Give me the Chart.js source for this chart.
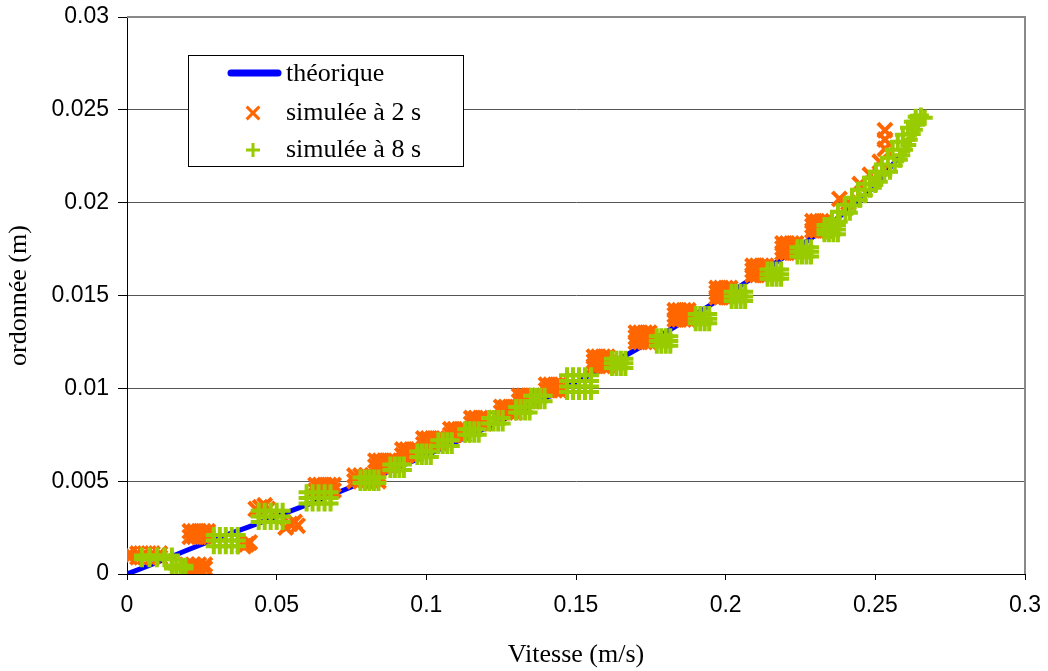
<!DOCTYPE html>
<html>
<head>
<meta charset="utf-8">
<script src="https://cdn.jsdelivr.net/npm/chart.js@4/dist/chart.umd.min.js"></script>
<style>
  html, body { margin: 0; padding: 0; background: #fff; }
  #wrap { width: 1048px; height: 671px; position: relative; }
</style>
</head>
<body>
<div id="wrap"><canvas id="graph"></canvas></div>
<script>
// courbe théorique (vitesse en m/s, ordonnée en m)
const theoV = [0, 0.01, 0.02, 0.03, 0.04, 0.05, 0.06, 0.07, 0.08, 0.09, 0.10, 0.11, 0.12, 0.13,
    0.14, 0.15, 0.16, 0.17, 0.18, 0.19, 0.20, 0.21, 0.22, 0.23, 0.24, 0.25, 0.26, 0.265];
const theoY = [0, 0.00062, 0.00128, 0.00192, 0.00250, 0.00310, 0.00372, 0.00436, 0.00502, 0.00570,
    0.00640, 0.00712, 0.00788, 0.00866, 0.00948, 0.01032, 0.01118, 0.01208, 0.01302, 0.01400,
    0.01500, 0.01605, 0.01712, 0.01825, 0.01950, 0.02090, 0.02290, 0.02440];

// points simulés à 2 s  [vitesse, ordonnée]
const simule2s = [
    [0.001, 0.0009], [0.0035, 0.0009], [0.006, 0.0009], [0.0085, 0.0009], [0.011, 0.0009],
    [0.001, 0.0011], [0.0035, 0.0011], [0.006, 0.0011], [0.0085, 0.0011], [0.011, 0.0011],
    [0.020, 0.0003], [0.022, 0.0003], [0.024, 0.0003], [0.026, 0.0003],
    [0.020, 0.0005], [0.022, 0.0005], [0.024, 0.0005], [0.026, 0.0005],
    [0.021, 0.0020], [0.0225, 0.0020], [0.024, 0.0020], [0.0255, 0.0020], [0.027, 0.0020],
    [0.021, 0.0023], [0.0225, 0.0023], [0.024, 0.0023], [0.0255, 0.0023], [0.027, 0.0023],
    [0.039, 0.0015], [0.040, 0.0016], [0.041, 0.0017],
    [0.043, 0.0035], [0.0445, 0.0036], [0.046, 0.0037], [0.047, 0.0035],
    [0.053, 0.0025], [0.0545, 0.0027], [0.056, 0.0028], [0.057, 0.0026],
    [0.063, 0.0045], [0.0645, 0.0045], [0.066, 0.0045], [0.0675, 0.0045], [0.069, 0.0045],
    [0.063, 0.0048], [0.0645, 0.0048], [0.066, 0.0048], [0.0675, 0.0048], [0.069, 0.0048],
    [0.076, 0.0050], [0.078, 0.0050], [0.080, 0.0050], [0.082, 0.0050], [0.084, 0.0050],
    [0.076, 0.0053], [0.078, 0.0053], [0.080, 0.0053], [0.082, 0.0053], [0.084, 0.0053],
    [0.083, 0.0058], [0.0845, 0.0058], [0.086, 0.0058], [0.0875, 0.0058], [0.089, 0.0058],
    [0.083, 0.0061], [0.0845, 0.0061], [0.086, 0.0061], [0.0875, 0.0061], [0.089, 0.0061],
    [0.092, 0.0064], [0.0935, 0.0064], [0.095, 0.0064], [0.0965, 0.0064],
    [0.092, 0.0067], [0.0935, 0.0067], [0.095, 0.0067], [0.0965, 0.0067],
    [0.099, 0.0070], [0.1005, 0.0070], [0.102, 0.0070], [0.1035, 0.0070], [0.105, 0.0070],
    [0.099, 0.0073], [0.1005, 0.0073], [0.102, 0.0073], [0.1035, 0.0073], [0.105, 0.0073],
    [0.108, 0.0075], [0.1095, 0.0075], [0.111, 0.0075], [0.1125, 0.0075],
    [0.108, 0.0078], [0.1095, 0.0078], [0.111, 0.0078], [0.1125, 0.0078],
    [0.115, 0.0081], [0.1165, 0.0081], [0.118, 0.0081], [0.1195, 0.0081],
    [0.115, 0.0084], [0.1165, 0.0084], [0.118, 0.0084], [0.1195, 0.0084],
    [0.125, 0.0087], [0.1265, 0.0087], [0.128, 0.0087], [0.1295, 0.0087],
    [0.125, 0.0090], [0.1265, 0.0090], [0.128, 0.0090], [0.1295, 0.0090],
    [0.131, 0.0093], [0.1325, 0.0093], [0.134, 0.0093], [0.1355, 0.0093],
    [0.131, 0.0096], [0.1325, 0.0096], [0.134, 0.0096], [0.1355, 0.0096],
    [0.140, 0.0099], [0.1415, 0.0099], [0.143, 0.0099], [0.1445, 0.0099],
    [0.140, 0.0102], [0.1415, 0.0102], [0.143, 0.0102], [0.1445, 0.0102],
    [0.156, 0.0112], [0.1575, 0.0112], [0.159, 0.0112], [0.1605, 0.0112],
    [0.156, 0.01145], [0.1575, 0.01145], [0.159, 0.01145], [0.1605, 0.01145],
    [0.156, 0.0117], [0.1575, 0.0117], [0.159, 0.0117], [0.1605, 0.0117],
    [0.170, 0.0125], [0.1715, 0.0125], [0.173, 0.0125], [0.1745, 0.0125],
    [0.170, 0.01275], [0.1715, 0.01275], [0.173, 0.01275], [0.1745, 0.01275],
    [0.170, 0.0130], [0.1715, 0.0130], [0.173, 0.0130], [0.1745, 0.0130],
    [0.183, 0.0137], [0.1845, 0.0137], [0.186, 0.0137], [0.1875, 0.0137],
    [0.183, 0.01395], [0.1845, 0.01395], [0.186, 0.01395], [0.1875, 0.01395],
    [0.183, 0.0142], [0.1845, 0.0142], [0.186, 0.0142], [0.1875, 0.0142],
    [0.197, 0.0149], [0.1985, 0.0149], [0.200, 0.0149], [0.2015, 0.0149],
    [0.197, 0.01515], [0.1985, 0.01515], [0.200, 0.01515], [0.2015, 0.01515],
    [0.197, 0.0154], [0.1985, 0.0154], [0.200, 0.0154], [0.2015, 0.0154],
    [0.209, 0.0161], [0.2105, 0.0161], [0.212, 0.0161], [0.2135, 0.0161],
    [0.209, 0.01635], [0.2105, 0.01635], [0.212, 0.01635], [0.2135, 0.01635],
    [0.209, 0.0166], [0.2105, 0.0166], [0.212, 0.0166], [0.2135, 0.0166],
    [0.219, 0.0173], [0.2205, 0.0173], [0.222, 0.0173], [0.2235, 0.0173],
    [0.219, 0.01755], [0.2205, 0.01755], [0.222, 0.01755], [0.2235, 0.01755],
    [0.219, 0.0178], [0.2205, 0.0178], [0.222, 0.0178], [0.2235, 0.0178],
    [0.229, 0.0185], [0.2305, 0.0185], [0.232, 0.0185], [0.2335, 0.0185],
    [0.229, 0.01875], [0.2305, 0.01875], [0.232, 0.01875], [0.2335, 0.01875],
    [0.229, 0.0190], [0.2305, 0.0190], [0.232, 0.0190], [0.2335, 0.0190],
    [0.238, 0.0202], [0.241, 0.0200], [0.2448, 0.0210], [0.2482, 0.0215], [0.2515, 0.0222],
    [0.2532, 0.0229], [0.2532, 0.0234], [0.2532, 0.0239]
];

// points simulés à 8 s  [vitesse, ordonnée]
const simule8s = [
    [0.005, 0.0008], [0.0075, 0.0008], [0.010, 0.0008], [0.0125, 0.0008], [0.015, 0.0008],
    [0.005, 0.0010], [0.0075, 0.0010], [0.010, 0.0010], [0.0125, 0.0010], [0.015, 0.0010],
    [0.015, 0.0003], [0.0165, 0.0003], [0.018, 0.0003], [0.0195, 0.0003],
    [0.015, 0.00045], [0.0165, 0.00045], [0.018, 0.00045], [0.0195, 0.00045],
    [0.029, 0.0015], [0.031, 0.0015], [0.033, 0.0015], [0.035, 0.0015], [0.037, 0.0015],
    [0.029, 0.0018], [0.031, 0.0018], [0.033, 0.0018], [0.035, 0.0018], [0.037, 0.0018],
    [0.029, 0.0021], [0.031, 0.0021], [0.033, 0.0021], [0.035, 0.0021], [0.037, 0.0021],
    [0.044, 0.0028], [0.046, 0.0028], [0.048, 0.0028], [0.050, 0.0028], [0.052, 0.0028],
    [0.044, 0.0031], [0.046, 0.0031], [0.048, 0.0031], [0.050, 0.0031], [0.052, 0.0031],
    [0.044, 0.0034], [0.046, 0.0034], [0.048, 0.0034], [0.050, 0.0034], [0.052, 0.0034],
    [0.060, 0.0038], [0.062, 0.0038], [0.064, 0.0038], [0.066, 0.0038], [0.068, 0.0038],
    [0.060, 0.0041], [0.062, 0.0041], [0.064, 0.0041], [0.066, 0.0041], [0.068, 0.0041],
    [0.060, 0.0044], [0.062, 0.0044], [0.064, 0.0044], [0.066, 0.0044], [0.068, 0.0044],
    [0.078, 0.0049], [0.0795, 0.0049], [0.081, 0.0049], [0.0825, 0.0049], [0.084, 0.0049],
    [0.078, 0.0052], [0.0795, 0.0052], [0.081, 0.0052], [0.0825, 0.0052], [0.084, 0.0052],
    [0.088, 0.0056], [0.0895, 0.0056], [0.091, 0.0056], [0.0925, 0.0056],
    [0.088, 0.0059], [0.0895, 0.0059], [0.091, 0.0059], [0.0925, 0.0059],
    [0.097, 0.0063], [0.0985, 0.0063], [0.100, 0.0063], [0.1015, 0.0063],
    [0.097, 0.0066], [0.0985, 0.0066], [0.100, 0.0066], [0.1015, 0.0066],
    [0.104, 0.0069], [0.1055, 0.0069], [0.107, 0.0069], [0.1085, 0.0069],
    [0.104, 0.0072], [0.1055, 0.0072], [0.107, 0.0072], [0.1085, 0.0072],
    [0.113, 0.0075], [0.1145, 0.0075], [0.116, 0.0075], [0.1175, 0.0075],
    [0.113, 0.0078], [0.1145, 0.0078], [0.116, 0.0078], [0.1175, 0.0078],
    [0.121, 0.0081], [0.1225, 0.0081], [0.124, 0.0081], [0.1255, 0.0081],
    [0.121, 0.0084], [0.1225, 0.0084], [0.124, 0.0084], [0.1255, 0.0084],
    [0.130, 0.0087], [0.1315, 0.0087], [0.133, 0.0087], [0.1345, 0.0087],
    [0.130, 0.0090], [0.1315, 0.0090], [0.133, 0.0090], [0.1345, 0.0090],
    [0.135, 0.0093], [0.1365, 0.0093], [0.138, 0.0093], [0.1395, 0.0093],
    [0.135, 0.0096], [0.1365, 0.0096], [0.138, 0.0096], [0.1395, 0.0096],
    [0.147, 0.0098], [0.149, 0.0098], [0.151, 0.0098], [0.153, 0.0098], [0.155, 0.0098],
    [0.147, 0.0101], [0.149, 0.0101], [0.151, 0.0101], [0.153, 0.0101], [0.155, 0.0101],
    [0.147, 0.0104], [0.149, 0.0104], [0.151, 0.0104], [0.153, 0.0104], [0.155, 0.0104],
    [0.147, 0.0107], [0.149, 0.0107], [0.151, 0.0107], [0.153, 0.0107], [0.155, 0.0107],
    [0.162, 0.0111], [0.1635, 0.0111], [0.165, 0.0111], [0.1665, 0.0111],
    [0.162, 0.01135], [0.1635, 0.01135], [0.165, 0.01135], [0.1665, 0.01135],
    [0.162, 0.0116], [0.1635, 0.0116], [0.165, 0.0116], [0.1665, 0.0116],
    [0.177, 0.0123], [0.1785, 0.0123], [0.180, 0.0123], [0.1815, 0.0123],
    [0.177, 0.01255], [0.1785, 0.01255], [0.180, 0.01255], [0.1815, 0.01255],
    [0.177, 0.0128], [0.1785, 0.0128], [0.180, 0.0128], [0.1815, 0.0128],
    [0.190, 0.0135], [0.1915, 0.0135], [0.193, 0.0135], [0.1945, 0.0135],
    [0.190, 0.01375], [0.1915, 0.01375], [0.193, 0.01375], [0.1945, 0.01375],
    [0.190, 0.0140], [0.1915, 0.0140], [0.193, 0.0140], [0.1945, 0.0140],
    [0.202, 0.0147], [0.2035, 0.0147], [0.205, 0.0147], [0.2065, 0.0147],
    [0.202, 0.01495], [0.2035, 0.01495], [0.205, 0.01495], [0.2065, 0.01495],
    [0.202, 0.0152], [0.2035, 0.0152], [0.205, 0.0152], [0.2065, 0.0152],
    [0.214, 0.0159], [0.2155, 0.0159], [0.217, 0.0159], [0.2185, 0.0159],
    [0.214, 0.01615], [0.2155, 0.01615], [0.217, 0.01615], [0.2185, 0.01615],
    [0.214, 0.0164], [0.2155, 0.0164], [0.217, 0.0164], [0.2185, 0.0164],
    [0.224, 0.0171], [0.2255, 0.0171], [0.227, 0.0171], [0.2285, 0.0171],
    [0.224, 0.01735], [0.2255, 0.01735], [0.227, 0.01735], [0.2285, 0.01735],
    [0.224, 0.0176], [0.2255, 0.0176], [0.227, 0.0176], [0.2285, 0.0176],
    [0.233, 0.0183], [0.2345, 0.0183], [0.236, 0.0183], [0.2375, 0.0183],
    [0.233, 0.01855], [0.2345, 0.01855], [0.236, 0.01855], [0.2375, 0.01855],
    [0.233, 0.0188], [0.2345, 0.0188], [0.236, 0.0188], [0.2375, 0.0188],
    [0.2331, 0.01843], [0.2355, 0.01908], [0.2375, 0.01951], [0.2398, 0.01989], [0.2422, 0.02027],
    [0.2442, 0.0207], [0.2465, 0.02102], [0.2482, 0.02134], [0.2502, 0.02167], [0.2522, 0.02205],
    [0.2542, 0.02242], [0.2558, 0.02285], [0.2575, 0.02328], [0.2592, 0.02366], [0.2609, 0.02404],
    [0.2622, 0.02436], [0.2635, 0.02463], [0.2652, 0.02469],
    [0.2381, 0.01897], [0.2415, 0.01946], [0.2448, 0.02016], [0.2482, 0.0207], [0.2515, 0.02113],
    [0.2549, 0.02167], [0.2582, 0.02231], [0.2599, 0.02285], [0.2615, 0.02339], [0.2632, 0.02393],
    [0.2642, 0.02436], [0.2665, 0.02458],
    [0.2400, 0.01940], [0.2430, 0.01985], [0.2465, 0.02040], [0.2500, 0.02095], [0.2530, 0.02150],
    [0.2565, 0.02200], [0.2590, 0.02255], [0.2610, 0.02310], [0.2625, 0.02370], [0.2640, 0.02420]
];

const serif = "'Liberation Serif', 'Times New Roman', serif";
const sans = "'Liberation Sans', Arial, sans-serif";

function fmt(v) {
    return String(Number(v.toFixed(4)));
}

// cadre gris (haut et droite) + légende dessinée dans la zone du graphe
const frameAndLegend = {
    id: 'frameAndLegend',
    afterDraw(chart) {
        const ctx = chart.ctx;
        const a = chart.chartArea;
        ctx.save();
        ctx.strokeStyle = '#888888';
        ctx.lineWidth = 2;
        ctx.beginPath();
        ctx.moveTo(a.left, a.top);
        ctx.lineTo(a.right, a.top);
        ctx.lineTo(a.right, a.bottom);
        ctx.stroke();

        // boîte de légende
        const bx = 188, by = 55, bw = 275, bh = 111;
        ctx.fillStyle = '#ffffff';
        ctx.fillRect(bx, by, bw, bh);
        ctx.strokeStyle = '#000000';
        ctx.lineWidth = 1;
        ctx.strokeRect(bx + 0.5, by + 0.5, bw, bh);

        const ds = chart.data.datasets;
        ctx.font = '26px ' + serif;
        ctx.textBaseline = 'middle';
        ctx.textAlign = 'left';

        // théorique
        ctx.strokeStyle = ds[0].borderColor;
        ctx.lineWidth = 7;
        ctx.lineCap = 'round';
        ctx.beginPath();
        ctx.moveTo(231, 73);
        ctx.lineTo(278, 73);
        ctx.stroke();
        ctx.lineCap = 'butt';
        ctx.fillStyle = '#000';
        ctx.fillText(ds[0].label, 286, 74);

        // simulée à 2 s
        ctx.strokeStyle = ds[1].borderColor;
        ctx.lineWidth = 3;
        Chart.helpers.drawPoint(ctx, { pointStyle: 'crossRot', radius: 9, borderWidth: 3 }, 253, 113);
        ctx.fillStyle = '#000';
        ctx.fillText(ds[1].label, 286, 113);

        // simulée à 8 s
        ctx.strokeStyle = ds[2].borderColor;
        ctx.lineWidth = 3;
        Chart.helpers.drawPoint(ctx, { pointStyle: 'cross', radius: 7, borderWidth: 3 }, 253, 150);
        ctx.fillStyle = '#000';
        ctx.fillText(ds[2].label, 286, 150);
        ctx.restore();
    }
};

const ctx = document.getElementById('graph').getContext('2d');
const graph = new Chart(ctx, {
    type: 'scatter',
    data: {
        datasets: [{
            label: 'théorique',
            data: theoV.map((v, i) => ({ x: v, y: theoY[i] })),
            showLine: true,
            borderColor: '#0000FF',
            borderWidth: 5,
            pointRadius: 0,
            order: 3
        }, {
            label: 'simulée à 2 s',
            data: simule2s.map(p => ({ x: p[0], y: p[1] })),
            pointStyle: 'crossRot',
            pointRadius: 10,
            borderWidth: 4,
            borderColor: '#FF6600',
            backgroundColor: '#FF6600',
            order: 2
        }, {
            label: 'simulée à 8 s',
            data: simule8s.map(p => ({ x: p[0], y: p[1] })),
            pointStyle: 'cross',
            pointRadius: 8,
            borderWidth: 4,
            borderColor: '#99CC00',
            backgroundColor: '#99CC00',
            order: 1
        }]
    },
    options: {
        responsive: true,
        maintainAspectRatio: false,
        animation: false,
        events: [],
        layout: { padding: { top: 17, right: 23, left: 0, bottom: 0 } },
        plugins: {
            legend: { display: false },
            tooltip: { enabled: false }
        },
        scales: {
            x: {
                type: 'linear',
                min: 0,
                max: 0.3,
                afterFit: s => { s.height = 97; s.paddingLeft = 0; s.paddingRight = 0; },
                ticks: {
                    stepSize: 0.05,
                    padding: 12,
                    color: '#000',
                    font: { family: sans, size: 23 },
                    callback: v => fmt(v)
                },
                grid: {
                    drawOnChartArea: false,
                    drawTicks: true,
                    tickLength: 6,
                    tickColor: '#000'
                },
                border: { color: '#000', width: 1 },
                title: {
                    display: true,
                    text: 'Vitesse (m/s)',
                    color: '#000',
                    font: { family: serif, size: 26 },
                    padding: { top: 0, bottom: 0 }
                }
            },
            y: {
                type: 'linear',
                min: 0,
                max: 0.03,
                afterFit: s => { s.width = 127; s.paddingTop = 0; s.paddingBottom = 0; },
                ticks: {
                    stepSize: 0.005,
                    padding: 9,
                    color: '#000',
                    font: { family: sans, size: 23 },
                    callback: v => fmt(v)
                },
                grid: {
                    color: '#555555',
                    lineWidth: 1,
                    drawTicks: true,
                    tickLength: 9,
                    tickColor: '#000'
                },
                border: { color: '#000', width: 1 },
                title: {
                    display: true,
                    text: 'ordonnée (m)',
                    color: '#000',
                    font: { family: serif, size: 26 },
                    padding: { top: 4, bottom: 0 }
                }
            }
        }
    },
    plugins: [frameAndLegend]
});
</script>
</body>
</html>
